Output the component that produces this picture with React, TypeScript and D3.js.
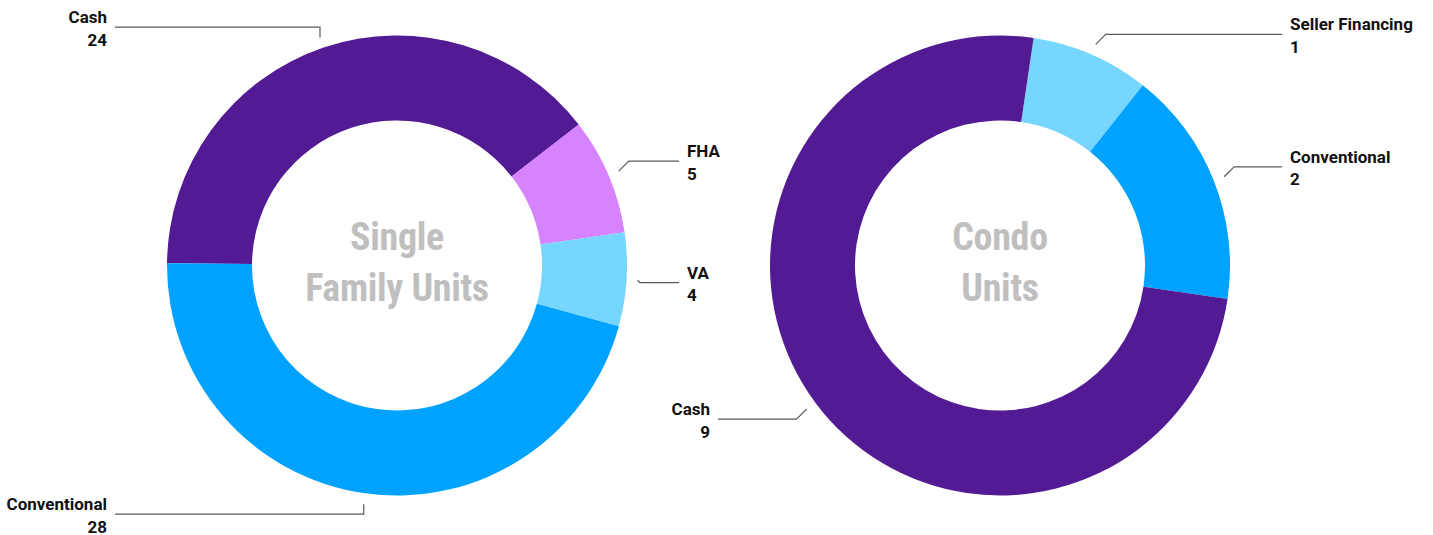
import React from "react";
import * as d3 from "d3";

const W = 1433;
const H = 535;

// Left chart: Single Family Units
const sfCategories = ["Cash", "FHA", "VA", "Conventional"];
const sfValues = [24, 5, 4, 28];
const sfColors = ["#531b93", "#d783ff", "#76d6ff", "#00a2ff"];
const sfTitle = ["Single", "Family Units"];
const sfStartDeg = -89.45;

// Right chart: Condo Units
const condoCategories = ["Seller Financing", "Conventional", "Cash"];
const condoValues = [1, 2, 9];
const condoColors = ["#76d6ff", "#00a2ff", "#531b93"];
const condoTitle = ["Condo", "Units"];
const condoStartDeg = 8.4;

const OUTER = 230;
const INNER = 145;
const LABEL_R = 241;
const LINE_END = 282;
const TEXT_X = 290;

type DonutProps = {
  cx: number;
  cy: number;
  categories: string[];
  values: number[];
  colors: string[];
  title: string[];
  startDeg: number;
};

function Donut({ cx, cy, categories, values, colors, title, startDeg }: DonutProps) {
  const start = (startDeg * Math.PI) / 180;
  const pie = d3
    .pie<number>()
    .sort(null)
    .value((d) => d)
    .startAngle(start)
    .endAngle(start + 2 * Math.PI);
  const arcs = pie(values);
  const arc = d3.arc<d3.PieArcDatum<number>>().innerRadius(INNER).outerRadius(OUTER);

  return (
    <g transform={`translate(${cx},${cy})`}>
      {arcs.map((a, i) => (
        <path key={i} d={arc(a) || ""} fill={colors[i]} />
      ))}
      {arcs.map((a, i) => {
        const mid = (a.startAngle + a.endAngle) / 2;
        const s = Math.sin(mid);
        const c = Math.cos(mid);
        const sx = LABEL_R * s;
        const sy = -LABEL_R * c;
        const off = -10 * Math.sign(c) * Math.min(1, Math.abs(c) * 4);
        const ly = sy + off;
        const side = s > 0 ? 1 : -1;
        const ex = Math.abs(s) > 0.35 ? sx + side * Math.abs(off) : sx;
        const endX = side * LINE_END;
        const tx = side * TEXT_X;
        const pts: [number, number][] = [
          [sx, sy],
          [ex, ly],
          [endX, ly],
        ];
        return (
          <g key={"l" + i}>
            <path
              d={d3.line()(pts) || ""}
              fill="none"
              stroke="#5a5a5a"
              strokeWidth={1.2}
            />
            <text
              x={tx}
              y={ly - 4}
              textAnchor={side > 0 ? "start" : "end"}
              fontFamily="Roboto, 'Noto Sans', sans-serif"
              fontWeight={700}
              fontSize={17}
              fill="#111"
            >
              {categories[i]}
            </text>
            <text
              x={tx}
              y={ly + 18.5}
              textAnchor={side > 0 ? "start" : "end"}
              fontFamily="Roboto, 'Noto Sans', sans-serif"
              fontWeight={700}
              fontSize={17}
              fill="#111"
            >
              {values[i]}
            </text>
          </g>
        );
      })}
      {title.map((t, i) => (
        <text
          key={"t" + i}
          x={0}
          y={-16 + i * 51}
          textAnchor="middle"
          fontFamily="'Roboto Condensed', 'Liberation Sans Narrow', 'DejaVu Sans Condensed', sans-serif"
          fontWeight={700}
          fontSize={38}
          fill="#bfbfbf"
          textLength={undefined}
          style={{ letterSpacing: "-0.3px" }}
        >
          {t}
        </text>
      ))}
    </g>
  );
}

export default function App() {
  return (
    <svg
      width={W}
      height={H}
      style={{ position: "absolute", left: 0, top: 0, background: "#fff" }}
    >
      <Donut
        cx={397}
        cy={265.5}
        categories={sfCategories}
        values={sfValues}
        colors={sfColors}
        title={sfTitle}
        startDeg={sfStartDeg}
      />
      <Donut
        cx={1000}
        cy={265.5}
        categories={condoCategories}
        values={condoValues}
        colors={condoColors}
        title={condoTitle}
        startDeg={condoStartDeg}
      />
    </svg>
  );
}
